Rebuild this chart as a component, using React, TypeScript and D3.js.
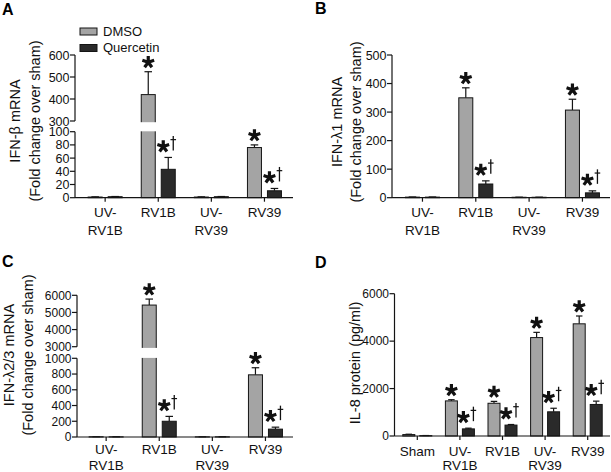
import React from "react";
import * as d3 from "d3";

// ---------------- data ----------------
const seriesNames = ["DMSO", "Quercetin"];
const groupsABC = ["UV-\nRV1B", "RV1B", "UV-\nRV39", "RV39"];
const groupsD = ["Sham", "UV-\nRV1B", "RV1B", "UV-\nRV39", "RV39"];

// Panel A: IFN-β mRNA
const dmsoA = [1, 420, 1, 76];
const dmsoErrA = [0.3, 104, 0.3, 4];
const querA = [1.5, 43, 1.5, 10.5];
const querErrA = [0.3, 18, 0.3, 3.5];
const ticksALow = [0, 20, 40, 60, 80, 100];
const ticksAHigh = [300, 400, 500, 600];

// Panel B: IFN-λ1 mRNA
const dmsoB = [2, 350, 1.5, 307];
const dmsoErrB = [0.5, 35, 0.3, 38];
const querB = [2, 48, 1.5, 17];
const querErrB = [0.5, 11, 0.3, 7];
const ticksB = [0, 100, 200, 300, 400, 500];

// Panel C: IFN-λ2/3 mRNA
const dmsoC = [3, 5430, 2, 790];
const dmsoErrC = [1, 350, 1, 90];
const querC = [2, 200, 2, 100];
const querErrC = [1, 62, 1, 25];
const ticksCLow = [0, 200, 400, 600, 800, 1000];
const ticksCHigh = [3000, 4000, 5000, 6000];

// Panel D: IL-8 protein
const dmsoD = [60, 1480, 1380, 4150, 4730];
const dmsoErrD = [15, 50, 80, 220, 330];
const querD = [15, 300, 460, 1020, 1330];
const querErrD = [5, 30, 25, 150, 140];
const ticksD = [0, 2000, 4000, 6000];

// significance marks
const starDmsoABC = [false, true, false, true];
const starQuerABC = [false, true, false, true];
const starDmsoD = [false, true, true, true, true];
const starQuerD = [false, true, true, true, true];

// ---------------- layout ----------------
const FONT = "'Liberation Sans', Arial, Helvetica, sans-serif";
const DMSO_FILL = "#a4a4a4";
const QUER_FILL = "#2a2a2a";
const STROKE = "#141414";

type Seg = { domain: [number, number]; range: [number, number]; ticks: number[] };
type PanelCfg = {
  letter: string;
  letterX: number;
  letterY: number;
  axisX: number;
  axisEnd: number;
  bandRange: [number, number];
  segs: Seg[];
  groups: string[];
  dmso: number[];
  dmsoErr: number[];
  quer: number[];
  querErr: number[];
  starD: boolean[];
  starQ: boolean[];
  barW: number;
  halfGap: number;
  titleLines: string[];
  titleX: number[];
  titleY: number;
  labelDy: [number, number];
  tickFont: number;
};

function asteriskPath(cx: number, cy: number, r: number) {
  const angles = [-90, -18, 54, 126, 198];
  return angles
    .map((a) => {
      const t = (a * Math.PI) / 180;
      return `M${cx},${cy}L${cx + r * Math.cos(t)},${cy + r * Math.sin(t)}`;
    })
    .join("");
}

function Star({ cx, cy, dagger }: { cx: number; cy: number; dagger?: boolean }) {
  const dx = cx + 10;
  return (
    <g>
      <path d={asteriskPath(cx, cy, 6.2)} stroke="#111" strokeWidth={3.2} fill="none" />
      {dagger && (
        <g stroke="#111" fill="none">
          <line x1={dx} x2={dx} y1={cy - 10.5} y2={cy + 4} strokeWidth={1.3} />
          <line x1={dx - 2.8} x2={dx + 2.8} y1={cy - 6.8} y2={cy - 6.8} strokeWidth={1.2} />
        </g>
      )}
    </g>
  );
}

function Panel({ c }: { c: PanelCfg }) {
  const x = d3.scaleBand<string>().domain(c.groups).range(c.bandRange);
  const scales = c.segs.map((s) => d3.scaleLinear().domain(s.domain).range(s.range));
  const yOf = (v: number) => {
    for (let i = 0; i < c.segs.length; i++) {
      if (v <= c.segs[i].domain[1] || i === c.segs.length - 1) return scales[i](v);
    }
    return scales[0](v);
  };
  const base = scales[0](0);
  const cxOf = (g: string) => (x(g) as number) + x.bandwidth() / 2;
  const broken = c.segs.length > 1;
  const gapTop = broken ? c.segs[1].range[0] : 0;
  const gapBot = broken ? c.segs[0].range[1] : 0;

  const series = [
    { vals: c.dmso, errs: c.dmsoErr, fill: DMSO_FILL, off: -c.halfGap - c.barW, stars: c.starD, dagger: false },
    { vals: c.quer, errs: c.querErr, fill: QUER_FILL, off: c.halfGap, stars: c.starQ, dagger: true },
  ];

  return (
    <g>
      <text x={c.letterX} y={c.letterY} fontSize={16} fontWeight="bold" fontFamily={FONT} fill="#000">
        {c.letter}
      </text>
      {/* y title */}
      {c.titleLines.map((t, i) => (
        <text
          key={i}
          transform={`translate(${c.titleX[i]},${c.titleY}) rotate(-90)`}
          textAnchor="middle"
          fontSize={14.5}
          fontFamily={FONT}
          fill="#111"
        >
          {t}
        </text>
      ))}
      {/* bars */}
      {c.groups.map((g, gi) =>
        series.map((s, si) => {
          const v = s.vals[gi];
          const bx = cxOf(g) + s.off;
          const top = yOf(v);
          const errTop = yOf(v + s.errs[gi]);
          const bcx = bx + c.barW / 2;
          const cap = c.barW * 0.27;
          return (
            <g key={`${gi}-${si}`}>
              <line x1={bcx} x2={bcx} y1={top} y2={errTop} stroke={STROKE} strokeWidth={1.2} />
              <line x1={bcx - cap} x2={bcx + cap} y1={errTop} y2={errTop} stroke={STROKE} strokeWidth={1.2} />
              <rect
                x={bx}
                y={top}
                width={c.barW}
                height={Math.max(0.01, base - top)}
                fill={s.fill}
                stroke={STROKE}
                strokeWidth={1}
              />
              {broken && v > c.segs[0].domain[1] && (
                <rect x={bx - 2} y={gapTop + 1.2} width={c.barW + 4} height={gapBot - gapTop - 1.6} fill="#fff" />
              )}
              {s.stars[gi] && (
                <Star
                  cx={s.dagger ? bcx - 5 : bcx}
                  cy={errTop - (s.dagger ? 11 : 9.5)}
                  dagger={s.dagger}
                />
              )}
            </g>
          );
        })
      )}
      {/* y axis */}
      {c.segs.map((s, i) => (
        <g key={i}>
          <line x1={c.axisX} x2={c.axisX} y1={s.range[0]} y2={s.range[1]} stroke={STROKE} strokeWidth={1.2} />
          {s.ticks.map((t) => (
            <g key={t}>
              <line x1={c.axisX - 5} x2={c.axisX} y1={scales[i](t)} y2={scales[i](t)} stroke={STROKE} strokeWidth={1.2} />
              <text
                x={c.axisX - 5.5}
                y={scales[i](t)}
                dy="0.36em"
                textAnchor="end"
                fontSize={c.tickFont}
                fontFamily={FONT}
                fill="#111"
              >
                {t}
              </text>
            </g>
          ))}
        </g>
      ))}
      {/* x axis */}
      <line x1={c.axisX} x2={c.axisEnd} y1={base} y2={base} stroke={STROKE} strokeWidth={1.2} />
      {c.groups.map((g) => {
        const lines = g.split("\n");
        return (
          <g key={g}>
            <line x1={cxOf(g)} x2={cxOf(g)} y1={base} y2={base + 4} stroke={STROKE} strokeWidth={1.2} />
            {lines.map((l, li) => (
              <text
                key={li}
                x={cxOf(g)}
                y={base + c.labelDy[li]}
                textAnchor="middle"
                fontSize={13.5}
                fontFamily={FONT}
                fill="#111"
              >
                {l}
              </text>
            ))}
          </g>
        );
      })}
    </g>
  );
}

const panelA: PanelCfg = {
  letter: "A", letterX: 2, letterY: 15,
  axisX: 75, axisEnd: 293, bandRange: [78.6, 291.0],
  segs: [
    { domain: [0, 100], range: [197.7, 131.7], ticks: ticksALow },
    { domain: [300, 600], range: [121, 55], ticks: ticksAHigh },
  ],
  groups: groupsABC, dmso: dmsoA, dmsoErr: dmsoErrA, quer: querA, querErr: querErrA,
  starD: starDmsoABC, starQ: starQuerABC, barW: 14, halfGap: 3,
  titleLines: ["IFN-β mRNA", "(Fold change over sham)"], titleX: [20, 39.5], titleY: 121,
  labelDy: [19, 37.5], tickFont: 12.5,
};

const panelB: PanelCfg = {
  letter: "B", letterX: 315, letterY: 14,
  axisX: 392, axisEnd: 610, bandRange: [395.8, 609.1],
  segs: [{ domain: [0, 500], range: [197.7, 55], ticks: ticksB }],
  groups: groupsABC, dmso: dmsoB, dmsoErr: dmsoErrB, quer: querB, querErr: querErrB,
  starD: starDmsoABC, starQ: starQuerABC, barW: 14, halfGap: 3,
  titleLines: ["IFN-λ1 mRNA", "(Fold change over sham)"], titleX: [342, 361], titleY: 122,
  labelDy: [19, 37.5], tickFont: 12.5,
};

const panelC: PanelCfg = {
  letter: "C", letterX: 2, letterY: 266.5,
  axisX: 77, axisEnd: 293, bandRange: [79.6, 292.0],
  segs: [
    { domain: [0, 1000], range: [437, 358.3], ticks: ticksCLow },
    { domain: [3000, 6000], range: [346.7, 295.3], ticks: ticksCHigh },
  ],
  groups: groupsABC, dmso: dmsoC, dmsoErr: dmsoErrC, quer: querC, querErr: querErrC,
  starD: starDmsoABC, starQ: starQuerABC, barW: 14, halfGap: 3,
  titleLines: ["IFN-λ2/3 mRNA", "(Fold change over sham)"], titleX: [14, 33], titleY: 355,
  labelDy: [17, 32.5], tickFont: 12,
};

const panelD: PanelCfg = {
  letter: "D", letterX: 315, letterY: 267.5,
  axisX: 394.5, axisEnd: 610, bandRange: [396, 609],
  segs: [{ domain: [0, 6000], range: [436, 293.7], ticks: ticksD }],
  groups: groupsD, dmso: dmsoD, dmsoErr: dmsoErrD, quer: querD, querErr: querErrD,
  starD: starDmsoD, starQ: starQuerD, barW: 12, halfGap: 2.5,
  titleLines: ["IL-8 protein (pg/ml)"], titleX: [360], titleY: 363,
  labelDy: [19.5, 33.5], tickFont: 12,
};

function Legend() {
  const items = [
    { name: seriesNames[0], fill: DMSO_FILL, y: 28 },
    { name: seriesNames[1], fill: QUER_FILL, y: 44.5 },
  ];
  return (
    <g>
      {items.map((it) => (
        <g key={it.name}>
          <rect x={80} y={it.y} width={17} height={7} fill={it.fill} stroke={STROKE} strokeWidth={1} />
          <text x={103} y={it.y + 7.5} fontSize={13} fontFamily={FONT} fill="#111">
            {it.name}
          </text>
        </g>
      ))}
    </g>
  );
}

export default function App() {
  return (
    <svg
      width={611}
      height={472}
      viewBox="0 0 611 472"
      style={{ position: "absolute", left: 0, top: 0, background: "#fff" }}
    >
      <rect x={0} y={0} width={611} height={472} fill="#fff" />
      <Panel c={panelA} />
      <Panel c={panelB} />
      <Panel c={panelC} />
      <Panel c={panelD} />
      <Legend />
    </svg>
  );
}
